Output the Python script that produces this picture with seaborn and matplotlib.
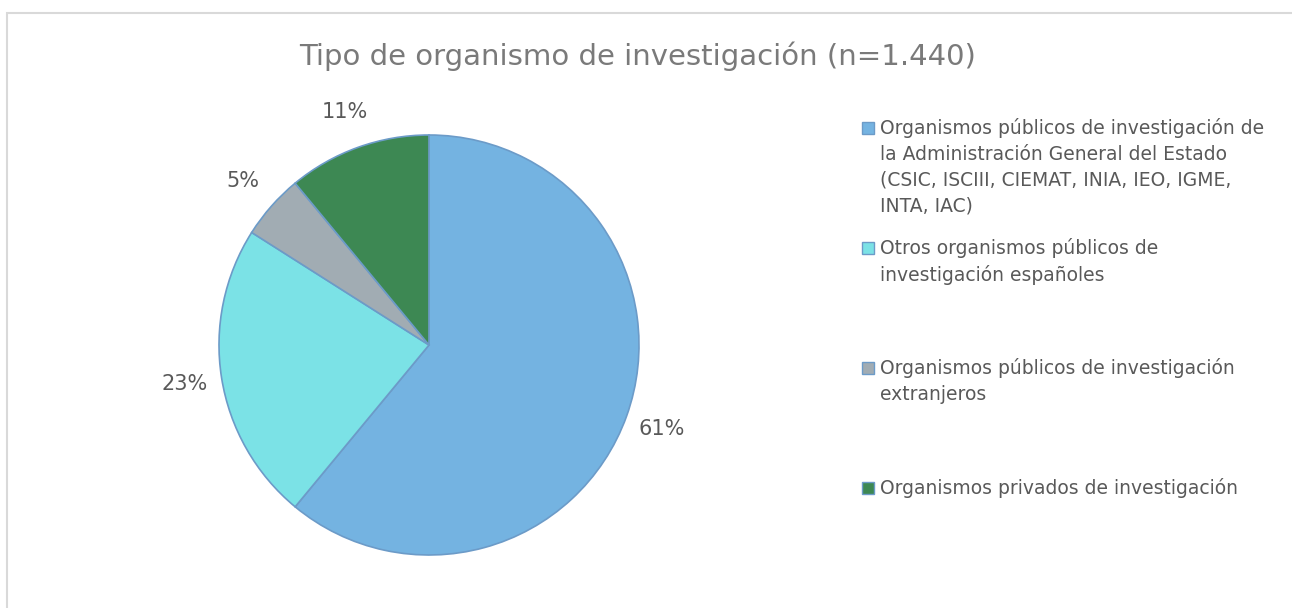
import matplotlib
matplotlib.use("Agg")
import matplotlib.pyplot as plt
import seaborn as sns
from matplotlib.patches import Rectangle

# ---- data ----
title = "Tipo de organismo de investigación (n=1.440)"
categories = [
    "Organismos públicos de investigación de\nla Administración General del Estado\n(CSIC, ISCIII, CIEMAT, INIA, IEO, IGME,\nINTA, IAC)",
    "Otros organismos públicos de\ninvestigación españoles",
    "Organismos públicos de investigación\nextranjeros",
    "Organismos privados de investigación",
]
values = [61, 23, 5, 11]
colors = ["#74B3E1", "#7BE2E6", "#A1ACB3", "#3D8853"]

sns.set_theme(style="white")
plt.rcParams['font.family'] = ['DejaVu Sans']

W, H = 1292, 608
fig = plt.figure(figsize=(W / 100, H / 100), dpi=100)
fig.patch.set_facecolor("white")

# outer chart frame
fig.patches.append(Rectangle((7 / W, -0.1), 1.2, 1 - 13 / H + 0.1, transform=fig.transFigure,
                             fill=False, edgecolor="#D9D9D9", linewidth=1.5))

cx, cy, r = 429, 345, 210
ax = fig.add_axes([(cx - r) / W, 1 - (cy + r) / H, 2 * r / W, 2 * r / H])
wedges, texts, autotexts = ax.pie(
    values, colors=colors, startangle=90, counterclock=False,
    autopct=lambda p: f"{p:.0f}%", pctdistance=1.18,
    wedgeprops=dict(edgecolor="#6C9BC8", linewidth=1.2),
    textprops=dict(color="#595959", fontsize=15),
)
ax.set_xlim(-1, 1)
ax.set_ylim(-1, 1)
ax.set_aspect("equal")
ax.axis("off")

fig.text(638 / W, 1 - 56 / H, title, ha="center", va="center", fontsize=21, color="#7A7A7A")

# legend (manual, equal pitch like the original)
for i, (cat, col) in enumerate(zip(categories, colors)):
    y0 = 128 + 120 * i
    fig.patches.append(Rectangle((862 / W, 1 - (y0 + 6) / H), 12 / W, 12 / H, transform=fig.transFigure,
                                 facecolor=col, edgecolor="#6C9BC8", linewidth=1.0))
    fig.text(880 / W, 1 - (y0 - 10) / H, cat, ha="left", va="top", fontsize=13.5,
             color="#595959", linespacing=1.45)

fig.savefig("out.png", dpi=100)
